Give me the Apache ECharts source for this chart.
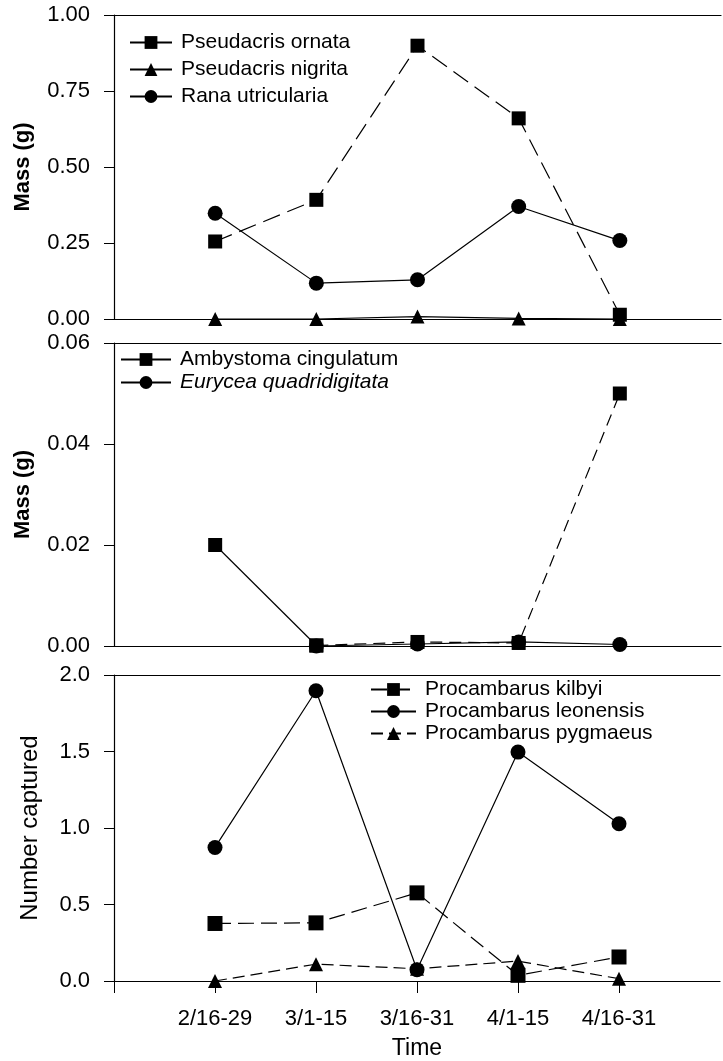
<!DOCTYPE html>
<html>
<head>
<meta charset="utf-8">
<script src="https://cdn.jsdelivr.net/npm/echarts@6/dist/echarts.min.js"></script>
<style>
  html, body { margin: 0; padding: 0; background: #fff; }
  #chart { width: 723px; height: 1061px; }
</style>
</head>
<body>
<div id="chart"></div>
<script>
// categories (time periods)
const categories = ['2/16-29', '3/1-15', '3/16-31', '4/1-15', '4/16-31'];

// top panel, mass (g)
const pseudacrisOrnata = [0.255, 0.392, 0.899, 0.66, 0.014];
const pseudacrisNigrita = [0, 0, 0.008, 0.002, 0];
const ranaUtricularia = [0.348, 0.118, 0.129, 0.37, 0.258];

// middle panel, mass (g)
const ambystomaCingulatum = [0.02, 0.0001, 0.0008, 0.0006, 0.05];
const euryceaQuadridigitata = [null, 0, 0.0004, 0.0008, 0.0003];

// bottom panel, number captured
const procambarusKilbyi = [0.376, 0.38, 0.576, 0.037, 0.157];
const procambarusLeonensis = [0.873, 1.897, 0.074, 1.496, 1.028];
const procambarusPygmaeus = [0, 0.11, 0.08, 0.13, 0.015];

const FONT = "'Liberation Sans', Arial, sans-serif";

// [x, y] pairs, x = 1..5 along a 0..6 value axis
function toPoints(values, from, to) {
  return values.map((v, i) => {
    if (from !== undefined && (i < from || i > to)) return [i + 1, null];
    return [i + 1, v];
  });
}

function lineSeries(name, values, symbol, dash, idx, extra) {
  return Object.assign({
    name: name,
    type: 'line',
    xAxisIndex: idx,
    yAxisIndex: idx,
    data: toPoints(values),
    symbol: symbol,
    symbolSize: 14,
    showSymbol: true,
    connectNulls: false,
    itemStyle: { color: '#000' },
    lineStyle: { color: '#000', width: 1.2, type: dash },
    emphasis: { disabled: true },
    animation: false
  }, extra || {});
}

const grids = [
  { left: 114, right: 2, top: 15, height: 304 },
  { left: 114, right: 2, top: 343, height: 303 },
  { left: 114, right: 2, top: 675, height: 306 }
];

function bottomAxis(idx, showLabels) {
  return {
    type: 'value',
    gridIndex: idx,
    min: 0,
    max: 6,
    interval: 1,
    splitLine: { show: false },
    axisLine: { show: true, onZero: false, lineStyle: { color: '#000', width: 1.2 } },
    axisTick: {
      show: showLabels,
      length: 12,
      customValues: [0, 1, 2, 3, 4, 5],
      lineStyle: { color: '#000' }
    },
    axisLabel: {
      show: showLabels,
      margin: 27,
      fontSize: 22,
      fontFamily: FONT,
      color: '#000',
      formatter: v => categories[v - 1] || ''
    },
    name: showLabels ? 'Time' : '',
    nameLocation: 'middle',
    nameGap: 56,
    nameTextStyle: { fontSize: 23, fontFamily: FONT, color: '#000' }
  };
}

function topAxis(idx) {
  return {
    type: 'value',
    gridIndex: idx,
    position: 'top',
    min: 0,
    max: 6,
    axisLine: { show: true, onZero: false, lineStyle: { color: '#000', width: 1.2 } },
    axisTick: { show: false },
    axisLabel: { show: false },
    splitLine: { show: false }
  };
}

function leftAxis(idx, max, interval, digits, name, bold, nameGap) {
  return {
    type: 'value',
    gridIndex: idx,
    min: 0,
    max: max,
    interval: interval,
    splitLine: { show: false },
    axisLine: { show: true, lineStyle: { color: '#000', width: 1.2 } },
    axisTick: { show: true, length: 10, lineStyle: { color: '#000' } },
    axisLabel: {
      margin: 24,
      fontSize: 22,
      fontFamily: FONT,
      color: '#000',
      formatter: v => v.toFixed(digits)
    },
    name: name,
    nameLocation: 'middle',
    nameGap: nameGap,
    nameTextStyle: {
      fontSize: bold ? 22 : 24,
      fontWeight: bold ? 'bold' : 'normal',
      fontFamily: FONT,
      color: '#000'
    }
  };
}

function legendBox(names, left, top, gap, itemWidth) {
  return {
    data: names,
    orient: 'vertical',
    left: left,
    top: top,
    itemGap: gap,
    itemWidth: itemWidth,
    itemHeight: 16,
    selectedMode: false,
    // genus names in italic only where the original prints them so
    formatter: name => name === 'Eurycea quadridigitata' ? '{i|' + name + '}' : name,
    textStyle: {
      fontSize: 21,
      fontFamily: FONT,
      color: '#000',
      padding: [0, 0, 0, 4],
      rich: { i: { fontStyle: 'italic', fontSize: 21, fontFamily: FONT, color: '#000' } }
    }
  };
}

const chart = echarts.init(document.getElementById('chart'));

chart.setOption({
  backgroundColor: '#fff',
  animation: false,
  grid: grids,
  xAxis: [
    bottomAxis(0, false), bottomAxis(1, false), bottomAxis(2, true),
    topAxis(0), topAxis(1), topAxis(2)
  ],
  yAxis: [
    leftAxis(0, 1, 0.25, 2, 'Mass (g)', true, 80),
    leftAxis(1, 0.06, 0.02, 2, 'Mass (g)', true, 80),
    leftAxis(2, 2, 0.5, 1, 'Number captured', false, 72)
  ],
  legend: [
    legendBox(['Pseudacris ornata', 'Pseudacris nigrita', 'Rana utricularia'], 124, 27, 6, 42),
    legendBox(['Ambystoma cingulatum', 'Eurycea quadridigitata'], 115, 344, 2, 50),
    legendBox(['Procambarus kilbyi', 'Procambarus leonensis', 'Procambarus pygmaeus'], 365, 674, 1, 45)
  ],
  series: [
    lineSeries('Pseudacris ornata', pseudacrisOrnata, 'rect', [18, 8], 0),
    lineSeries('Pseudacris nigrita', pseudacrisNigrita, 'triangle', 'solid', 0),
    lineSeries('Rana utricularia', ranaUtricularia, 'circle', 'solid', 0, { symbolSize: 15 }),

    // first segment drawn solid, the rest dashed
    lineSeries('Ambystoma cingulatum', ambystomaCingulatum, 'rect', 'solid', 1,
      { data: toPoints(ambystomaCingulatum, 0, 1) }),
    lineSeries('Ambystoma cingulatum (cont.)', ambystomaCingulatum, 'rect', [12, 7], 1,
      { data: toPoints(ambystomaCingulatum, 1, 4) }),
    lineSeries('Eurycea quadridigitata', euryceaQuadridigitata, 'circle', 'solid', 1, { symbolSize: 15 }),

    lineSeries('Procambarus kilbyi', procambarusKilbyi, 'rect', [16, 7], 2, { symbolSize: 15 }),
    lineSeries('Procambarus leonensis', procambarusLeonensis, 'circle', 'solid', 2, { symbolSize: 15 }),
    lineSeries('Procambarus pygmaeus', procambarusPygmaeus, 'triangle', [12, 6], 2)
  ]
});
</script>
</body>
</html>
